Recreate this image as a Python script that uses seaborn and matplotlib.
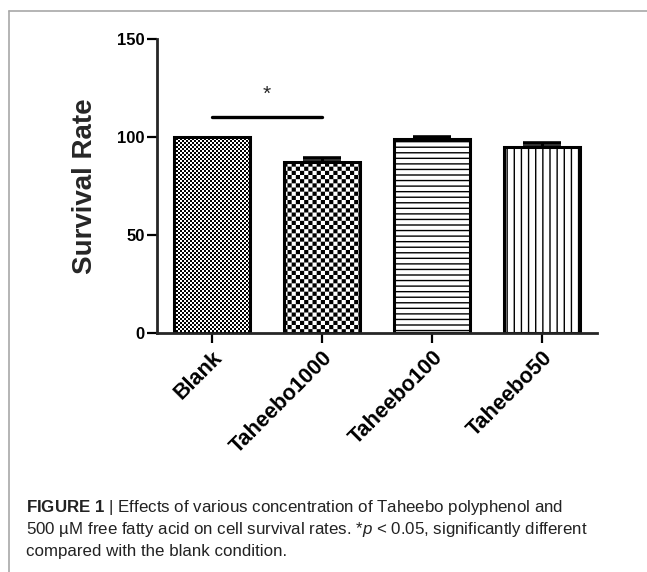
import numpy as np
import pandas as pd
import matplotlib
matplotlib.use("Agg")
import matplotlib.pyplot as plt
import matplotlib.hatch as mhatch
from matplotlib.path import Path
from matplotlib.lines import Line2D
import seaborn as sns

# data
groups = ["Blank", "Taheebo1000", "Taheebo100", "Taheebo50"]
survival = [100.0, 87.0, 99.2, 95.0]
sem = [0.0, 2.4, 1.0, 1.8]
bar_hatch = ["c", "k", "---", "v"]
y_ticks = [0, 50, 100, 150]
sig_pair = [0, 1]
sig_y = 110
star_y = 122

caption_lines = [
    r"$\mathbf{FIGURE\ 1}$ | Effects of various concentration of Taheebo polyphenol and",
    r"500 µM free fatty acid on cell survival rates. *$p$ < 0.05, significantly different",
    "compared with the blank condition.",
]


# checkerboard / vertical line hatches (not built into matplotlib)
class ExtraHatch(mhatch.HatchPatternBase):
    checkers = {"c": 25, "k": 12}
    vlines = {"v": 14}

    def __init__(self, hatch, density):
        self.n_check = 0
        self.n_lines = 0
        for ch, n in self.checkers.items():
            if ch in hatch:
                self.n_check = n
        for ch, n in self.vlines.items():
            if ch in hatch:
                self.n_lines = n
        self.num_vertices = 2 * self.n_check ** 2 * 5 + 2 * self.n_lines

    def set_vertices_and_codes(self, vertices, codes):
        verts, cds = [], []
        if self.n_check:
            cell = 1.0 / (2 * self.n_check)
            half = max(cell - 1.0 / 72, 0.002) / 2
            sq = np.array([[-half, -half], [half, -half], [half, half],
                           [-half, half], [-half, -half]])
            sq_codes = [Path.MOVETO, Path.LINETO, Path.LINETO,
                        Path.LINETO, Path.CLOSEPOLY]
            for i in range(2 * self.n_check):
                for j in range(2 * self.n_check):
                    if (i + j) % 2 == 0:
                        verts.append(sq + [(i + 0.5) * cell, (j + 0.5) * cell])
                        cds.extend(sq_codes)
        if self.n_lines:
            for x in np.arange(self.n_lines) / self.n_lines:
                verts.append(np.array([[x, 0.0], [x, 1.0]]))
                cds.extend([Path.MOVETO, Path.LINETO])
        vertices[:] = np.concatenate(verts)
        codes[:] = cds


mhatch._hatch_types.append(ExtraHatch)
mhatch._validate_hatch_pattern = lambda hatch: None

sns.set_style("white")
plt.rcParams["font.family"] = ["Liberation Sans", "DejaVu Sans"]
plt.rcParams["mathtext.fontset"] = "custom"
plt.rcParams["mathtext.rm"] = "Liberation Sans"
plt.rcParams["mathtext.bf"] = "Liberation Sans:bold"
plt.rcParams["mathtext.it"] = "Liberation Sans:italic"
plt.rcParams["hatch.linewidth"] = 1.0
plt.rcParams["hatch.color"] = "black"

df = pd.DataFrame({"group": groups, "survival": survival, "sem": sem})

fig = plt.figure(figsize=(6.47, 5.72), dpi=100)
ax = fig.add_axes([157 / 647, 239 / 572, 440 / 647, 294 / 572])

sns.barplot(data=df, x="group", y="survival", color="white", saturation=1,
            edgecolor="black", linewidth=2.2, width=0.69, errorbar=None, ax=ax)
for patch, h in zip(ax.patches, bar_hatch):
    patch.set_hatch(h)
    patch.set_joinstyle("miter")

idx = np.arange(len(groups))
ax.errorbar(idx[1:], df["survival"][1:], yerr=[np.zeros(3), df["sem"][1:]],
            fmt="none", ecolor="black", elinewidth=2.2, capsize=14, capthick=2.6)

# significance bar
ax.plot(sig_pair, [sig_y, sig_y], color="black", lw=2.4, solid_capstyle="round")
ax.text(np.mean(sig_pair), star_y, "*", ha="center", va="center", fontsize=15)

ax.set_xlim(-0.5, 3.5)
ax.set_ylim(0, 150)
ax.set_yticks(y_ticks)
ax.set_xlabel("")
ax.set_ylabel("Survival Rate", fontsize=20, fontweight="bold")
ax.yaxis.set_label_coords(-0.135, 0.5)
sns.despine(ax=ax)
for side in ["left", "bottom"]:
    ax.spines[side].set_linewidth(2.0)
ax.tick_params(axis="both", direction="out", length=7, width=1.6,
               left=True, bottom=True, color="black", labelcolor="black")
ax.tick_params(axis="y", labelsize=12, pad=2)
ax.tick_params(axis="x", labelsize=15.5, pad=3)
for lab in ax.get_yticklabels():
    lab.set_fontweight("bold")
for lab in ax.get_xticklabels():
    lab.set_fontweight("bold")
    lab.set_rotation(45)
    lab.set_ha("right")
    lab.set_rotation_mode("anchor")

# page frame lines (left and top)
fx = 8.5 / 647
fy = 1 - 11 / 572
fig.add_artist(Line2D([fx, fx], [0, fy], transform=fig.transFigure,
                      color="#a8a8a8", lw=1.2))
fig.add_artist(Line2D([fx, 1], [fy, fy], transform=fig.transFigure,
                      color="#a8a8a8", lw=1.2))

# caption
for k, line in enumerate(caption_lines):
    fig.text(26 / 647, (572 - 512 - 22 * k) / 572, line, fontsize=12.2,
             color="#222222", ha="left", va="baseline")

fig.savefig("out.png", dpi=100)
